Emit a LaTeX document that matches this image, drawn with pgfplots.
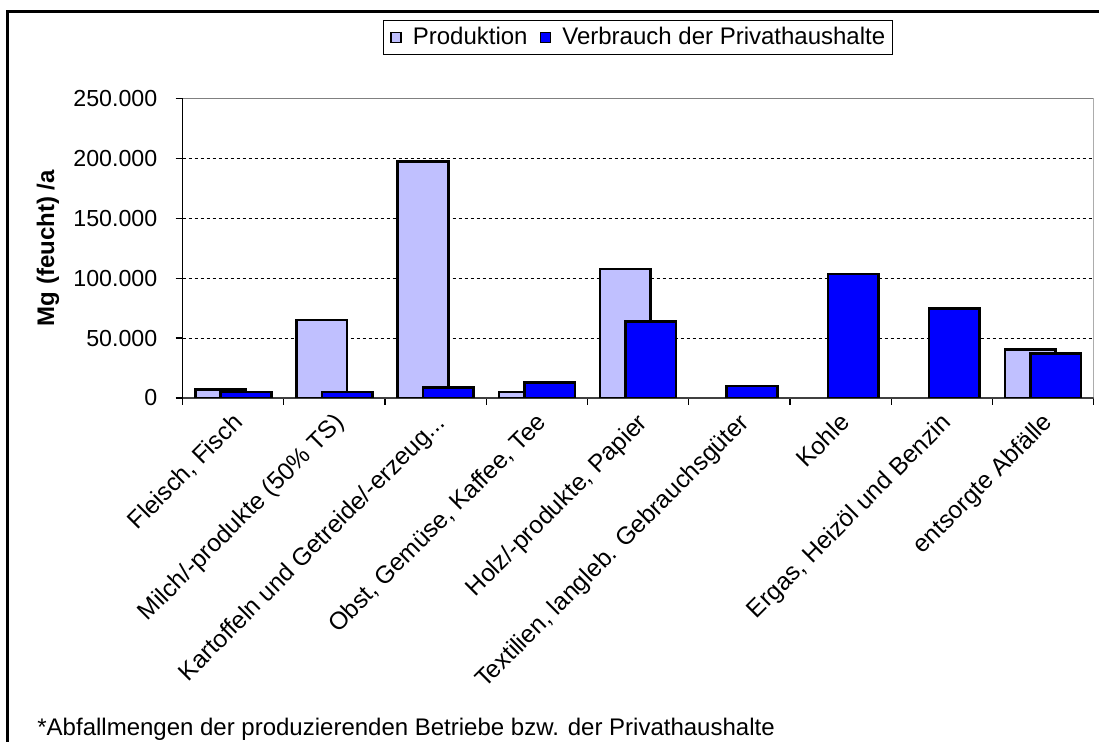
\documentclass[border=0pt]{standalone}
\usepackage{fontspec}
\setmainfont{Liberation Sans}
\usepackage{pgfplots}
\pgfplotsset{compat=1.18}
\definecolor{prodcol}{RGB}{192,192,255}
\definecolor{verbcol}{RGB}{0,0,255}
\newcommand{\cf}{\fontsize{12}{14}\selectfont}
\newcommand{\xf}{\fontsize{12.3}{14}\selectfont}
\newcommand{\yf}{\fontsize{11.6}{14}\selectfont}
\begin{document}
\begin{tikzpicture}
\useasboundingbox (0,0) rectangle (549.5pt,-371pt);
\fill[white] (0,0) rectangle (549.5pt,-371pt);
\draw[line width=1.4pt] (3.75pt,-371pt) -- (3.75pt,-5.85pt) -- (549.5pt,-5.85pt);
\begin{axis}[
  scale only axis,
  width=455.4pt, height=149.85pt,
  at={(91.35pt,-199pt)}, anchor=south west,
  xmin=-0.5, xmax=8.5, ymin=0, ymax=250000,
  axis x line*=bottom, axis y line*=left,
  x axis line style={draw=black!75, line width=0.6pt},
  y axis line style={draw=black, line width=0.6pt},
  xtick={0,...,8},
  xticklabels={{Fleisch, Fisch},{Milch/-produkte (50\% TS)},{Kartoffeln und Getreide/-erzeug{.}{.}{.}},{Obst, Gemüse, Kaffee, Tee},{Holz/-produkte, Papier},{Textilien, langleb. Gebrauchsgüter},{Kohle},{Ergas, Heizöl und Benzin},{entsorgte Abfälle}},
  major x tick style={draw=none},
  minor xtick={-0.5,0.5,...,8.5},
  minor x tick style={draw=black, line width=0.6pt},
  tick align=outside,
  major tick length=3.5pt, minor tick length=3.5pt,
  ytick={0,50000,100000,150000,200000,250000},
  ytick style={draw=black, line width=0.6pt},
  scaled y ticks=false,
  /pgf/number format/fixed,
  /pgf/number format/1000 sep={.},
  /pgf/number format/assume math mode=true,
  xticklabel style={font=\xf, inner sep=0pt, xshift=-1pt, yshift=-3pt, rotate=45, anchor=north east},
  yticklabel style={font=\yf, inner sep=0pt, anchor=east, xshift=-9pt},
  ymajorgrids,
  grid style={black, line width=0.5pt, dash pattern=on 1.5pt off 1.5pt},
  ylabel={\textbf{Mg (feucht) /a}},
  ylabel style={font=\cf, at={(axis description cs:-0.148,0.5)}, anchor=center},
  legend columns=2,
  legend style={at={(axis description cs:0.4995,1.203)}, anchor=center, font=\cf,
    draw=black, line width=0.5pt, inner xsep=3.5pt, inner ysep=3.5pt,
    nodes={inner sep=0pt},
    /tikz/every odd column/.append style={column sep=5.5pt},
    /tikz/every even column/.append style={column sep=6pt}},
  legend image code/.code={\draw[#1, line width=0.9pt] (0pt,-2.5pt) rectangle (5pt,2.5pt);},
]
\addplot[ybar, bar width=0.5, bar shift=-0.125, fill=prodcol, draw=black, line width=1.3pt]
  coordinates {(0,7200) (1,65000) (2,197500) (3,5000) (4,107500) (8,40500)};
\addlegendentry{Produktion}
\addplot[ybar, bar width=0.5, bar shift=0.125, fill=verbcol, draw=black, line width=1.3pt]
  coordinates {(0,5000) (1,5000) (2,8600) (3,12700) (4,64000) (5,10000) (6,103500) (7,74700) (8,37200)};
\addlegendentry{Verbrauch der Privathaushalte}
\draw[black!50, line width=1pt] (rel axis cs:0,1) -- (rel axis cs:1,1) -- (rel axis cs:1,0);
\end{axis}
\node[anchor=base west, font=\cf, inner sep=0pt] at (18.5pt,-368pt) {*Abfallmengen der produzierenden Betriebe bzw. der Privathaushalte};
\end{tikzpicture}
\end{document}
